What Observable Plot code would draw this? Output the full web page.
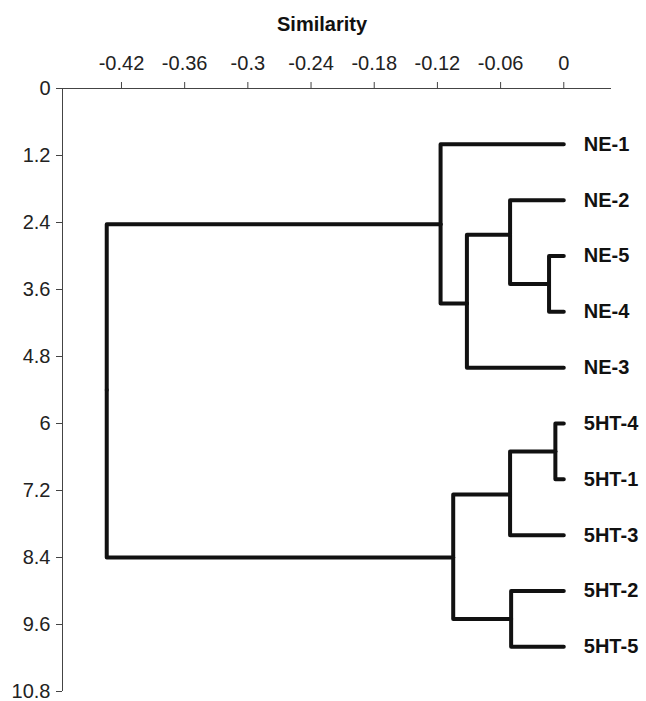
<!DOCTYPE html>
<html>
<head>
<meta charset="utf-8">
<script src="https://cdn.jsdelivr.net/npm/d3@7"></script>
<script src="https://cdn.jsdelivr.net/npm/@observablehq/plot@0.6"></script>
<style>
  html, body { margin: 0; padding: 0; background: #fff; }
  #chart svg { display: block; }
</style>
</head>
<body>
<div id="chart"></div>
<script>
// ---- Data ----
const leafNames      = ["NE-1", "NE-2", "NE-5", "NE-4", "NE-3", "5HT-4", "5HT-1", "5HT-3", "5HT-2", "5HT-5"];
const leafOrder      = [1, 2, 3, 4, 5, 6, 7, 8, 9, 10];
const leafSimilarity = [0, 0, 0, 0, 0, 0, 0, 0, 0, 0];
const leafParent     = ["nNE", "n2", "n54", "n54", "nNEsub", "n41", "n41", "n3", "n25", "n25"];

const nodeIds        = ["n54", "n2", "nNEsub", "nNE", "n41", "n3", "n25", "n5HT", "root"];
const nodeSimilarity = [-0.014, -0.051, -0.092, -0.117, -0.008, -0.051, -0.050, -0.105, -0.434];
const nodeOrder      = [3.5, 2.62, 3.85, 2.43, 6.5, 7.27, 9.5, 8.4, 5.4];
const nodeParent     = ["n2", "nNEsub", "nNE", "root", "n3", "n5HT", "n5HT", "root", null];

const xTicks  = [-0.42, -0.36, -0.3, -0.24, -0.18, -0.12, -0.06, 0];
const yTicks  = [0, 1.2, 2.4, 3.6, 4.8, 6, 7.2, 8.4, 9.6, 10.8];
const xDomain = [-0.476, 0.0453];
const yDomain = [0, 10.8];

// ---- Build node table & links ----
const nodes = new Map();
leafNames.forEach((n, i) => nodes.set(n, {id: n, x: leafSimilarity[i], y: leafOrder[i], parent: leafParent[i], leaf: true}));
nodeIds.forEach((n, i) => nodes.set(n, {id: n, x: nodeSimilarity[i], y: nodeOrder[i], parent: nodeParent[i], leaf: false}));

const links = [];
for (const nd of nodes.values()) {
  if (!nd.parent) continue;
  const p = nodes.get(nd.parent);
  links.push({x1: p.x, y1: p.y, x2: nd.x, y2: nd.y});
}
const leaves = [...nodes.values()].filter(d => d.leaf);

const font = "'Liberation Sans', Arial, Helvetica, sans-serif";

const chart = Plot.plot({
  width: 646,
  height: 701,
  marginLeft: 62,
  marginRight: 35,
  marginTop: 88,
  marginBottom: 10,
  style: {fontFamily: font, fontSize: "20px", color: "#222", background: "#fff"},
  x: {domain: xDomain},
  y: {domain: yDomain, reverse: true},
  marks: [
    Plot.ruleY([yDomain[0]], {stroke: "#444", strokeWidth: 1}),
    Plot.ruleX([xDomain[0]], {stroke: "#444", strokeWidth: 1}),
    Plot.axisX({anchor: "top", ticks: xTicks, tickFormat: d => String(d), tickSize: 7, tickPadding: 12,
                label: null, fontSize: 20, stroke: "#444"}),
    Plot.axisY({anchor: "left", ticks: yTicks, tickFormat: d => String(d), tickSize: 6, tickPadding: 6,
                label: null, fontSize: 20, stroke: "#444"}),
    Plot.link(links, {x1: "x1", y1: "y1", x2: "x2", y2: "y2", curve: "step-before",
                      stroke: "#111", strokeWidth: 4, strokeLinejoin: "round", strokeLinecap: "round"}),
    Plot.text(leaves, {x: "x", y: "y", text: "id", dx: 20, textAnchor: "start",
                       fontWeight: "bold", fontSize: 20, fill: "#111"}),
    Plot.text(["Similarity"], {frameAnchor: "top", dy: -58, dx: -15, lineAnchor: "bottom",
                               fontWeight: "bold", fontSize: 20, fill: "#111"})
  ]
});
document.getElementById("chart").appendChild(chart);
</script>
</body>
</html>
